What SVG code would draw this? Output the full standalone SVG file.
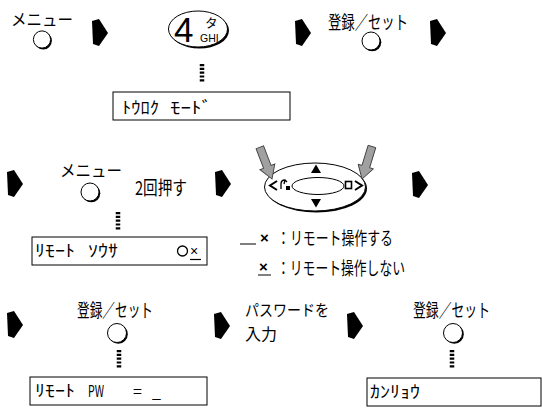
<svg xmlns="http://www.w3.org/2000/svg" width="542" height="408" viewBox="0 0 542 408">
<style>
.t{font-family:"Noto Sans CJK JP","Noto Sans",sans-serif;fill:#000}
.l{font-family:"Liberation Sans",Arial,sans-serif;fill:#000}
.sh{fill:#000}
.fc{fill:#fff;stroke:#000;stroke-width:1}
.box{fill:#fff;stroke:#000;stroke-width:1}
.dots{stroke:#000;stroke-width:4.5;stroke-dasharray:2.2 1.6;fill:none}
.ga{fill:#a0a0a0;stroke:#404040;stroke-width:0.9}
</style>
<defs>
<path id="blk" d="M0,2 L7,0 L16,14 L7,27 L1,25 Z" fill="#000"/>
<polygon id="garr" points="0,0 -8,-13 -4,-13 -4,-34 4,-34 4,-13 8,-13"/>
</defs>
<rect width="542" height="408" fill="#fff"/>

<g id="connectors">
<use href="#blk" x="92" y="19"/>
<use href="#blk" x="295" y="19"/>
<use href="#blk" x="430" y="19"/>
<use href="#blk" x="7" y="170"/>
<use href="#blk" x="215" y="170"/>
<use href="#blk" x="412" y="171"/>
<use href="#blk" x="7" y="311"/>
<use href="#blk" x="214" y="312"/>
<use href="#blk" x="347" y="312"/>
<line class="dots" x1="202" y1="64" x2="202" y2="82"/>
<line class="dots" x1="118" y1="212" x2="118" y2="230"/>
<line class="dots" x1="119" y1="350" x2="119" y2="368"/>
<line class="dots" x1="452" y1="350" x2="452" y2="368"/>
</g>

<g id="menu1">
<text class="t" x="11" y="26" font-size="16.5" textLength="62" lengthAdjust="spacingAndGlyphs">メニュー</text>
<circle class="sh" cx="43.3" cy="40.8" r="8.6"/>
<circle class="fc" cx="42" cy="39.5" r="8.6"/>
</g>

<g id="key4">
<ellipse class="sh" cx="199.5" cy="30.5" rx="29.5" ry="18"/>
<ellipse class="fc" cx="198" cy="29" rx="29.5" ry="18"/>
<text class="l" x="174" y="42" font-size="35">4</text>
<text class="t" x="205" y="28" font-size="12.5">タ</text>
<text class="l" x="200" y="41.5" font-size="10.5">GHI</text>
</g>

<g id="set1">
<text class="t" x="328" y="29" font-size="18.5" textLength="80" lengthAdjust="spacingAndGlyphs">登録／セット</text>
<circle class="sh" cx="372.3" cy="42.3" r="9"/>
<circle class="fc" cx="371" cy="41" r="9"/>
</g>

<g id="disp1">
<rect class="box" x="113" y="92" width="177" height="28"/>
<text class="t" x="122" y="114" font-size="16.5" textLength="37" lengthAdjust="spacingAndGlyphs">ﾄｳﾛｸ</text>
<text class="t" x="170" y="114" font-size="16.5" textLength="42" lengthAdjust="spacingAndGlyphs">ﾓｰﾄﾞ</text>
</g>

<g id="menu2">
<text class="t" x="60" y="177" font-size="16.5" textLength="62" lengthAdjust="spacingAndGlyphs">メニュー</text>
<circle class="sh" cx="91.3" cy="193.3" r="9"/>
<circle class="fc" cx="90" cy="192" r="9"/>
<text class="t" x="135" y="194.5" font-size="19" textLength="52" lengthAdjust="spacingAndGlyphs">2回押す</text>
</g>

<g id="joystick">
<ellipse class="sh" cx="316.5" cy="188.5" rx="50.5" ry="24"/>
<ellipse class="fc" cx="315" cy="187" rx="50.5" ry="24"/>
<ellipse fill="#fff" stroke="#000" stroke-width="1" cx="318" cy="186" rx="26" ry="8.5"/>
<polygon points="316,164.5 311,173 321,173" fill="#000"/>
<polygon points="311,199 321,199 316,207.5" fill="#000"/>
<polyline points="277,181 270,185.5 277,190" fill="none" stroke="#000" stroke-width="2"/>
<path d="M281,189 L281,184 Q281,180 285,180 L287,182 M285,180 L284,184" fill="none" stroke="#000" stroke-width="1.3"/>
<rect x="286" y="186" width="4" height="4" fill="#000"/>
<rect x="345.5" y="181.5" width="6" height="7" fill="#fff" stroke="#000" stroke-width="1.6"/>
<polyline points="355,181 362,185.5 355,190" fill="none" stroke="#000" stroke-width="2"/>
<use href="#garr" class="ga" transform="translate(272,179) rotate(-21)"/>
<use href="#garr" class="ga" transform="translate(362,179) rotate(17)"/>
</g>

<g id="disp2">
<rect class="box" x="32" y="237" width="175" height="28"/>
<text class="t" x="35" y="257" font-size="16.5" textLength="40" lengthAdjust="spacingAndGlyphs">ﾘﾓｰﾄ</text>
<text class="t" x="88" y="257" font-size="16.5" textLength="30" lengthAdjust="spacingAndGlyphs">ｿｳｻ</text>
<circle cx="182.5" cy="251" r="5" fill="none" stroke="#000" stroke-width="1.3"/>
<text class="l" x="190" y="256" font-size="14">×</text>
<line x1="190" y1="259.5" x2="201" y2="259.5" stroke="#000" stroke-width="1.2"/>
</g>

<g id="legend">
<line x1="240" y1="244" x2="256" y2="244" stroke="#000" stroke-width="1"/>
<text class="l" x="260" y="243" font-size="15" font-weight="bold">×</text>
<text class="t" x="277" y="244.5" font-size="18" textLength="116" lengthAdjust="spacingAndGlyphs">：リモート操作する</text>
<text class="l" x="259" y="272" font-size="15" font-weight="bold">×</text>
<line x1="258" y1="275" x2="271" y2="275" stroke="#000" stroke-width="1"/>
<text class="t" x="277" y="274.5" font-size="18" textLength="128" lengthAdjust="spacingAndGlyphs">：リモート操作しない</text>
</g>

<g id="set2">
<text class="t" x="77" y="317" font-size="18.5" textLength="76" lengthAdjust="spacingAndGlyphs">登録／セット</text>
<circle class="sh" cx="118.3" cy="334.3" r="9.5"/>
<circle class="fc" cx="117" cy="333" r="9.5"/>
</g>

<g id="disp3">
<rect class="box" x="30" y="377" width="177" height="28"/>
<text class="t" x="35" y="397" font-size="16.5" textLength="40" lengthAdjust="spacingAndGlyphs">ﾘﾓｰﾄ</text>
<text class="t" x="88" y="397" font-size="16.5" textLength="16" lengthAdjust="spacingAndGlyphs">PW</text>
<text class="t" x="133" y="397" font-size="16">=</text>
<text class="t" x="152" y="398" font-size="16">_</text>
</g>

<g id="password">
<text class="t" x="245" y="316" font-size="15.5" textLength="84" lengthAdjust="spacingAndGlyphs">パスワードを</text>
<text class="t" x="245" y="339.5" font-size="15.5" textLength="32" lengthAdjust="spacingAndGlyphs">入力</text>
</g>

<g id="set3">
<text class="t" x="413" y="317" font-size="18.5" textLength="77" lengthAdjust="spacingAndGlyphs">登録／セット</text>
<circle class="sh" cx="454.3" cy="334.3" r="9.5"/>
<circle class="fc" cx="453" cy="333" r="9.5"/>
</g>

<g id="disp4">
<rect class="box" x="367" y="378" width="174" height="28"/>
<text class="t" x="370" y="398" font-size="16.5" textLength="50" lengthAdjust="spacingAndGlyphs">ｶﾝﾘｮｳ</text>
</g>
</svg>
